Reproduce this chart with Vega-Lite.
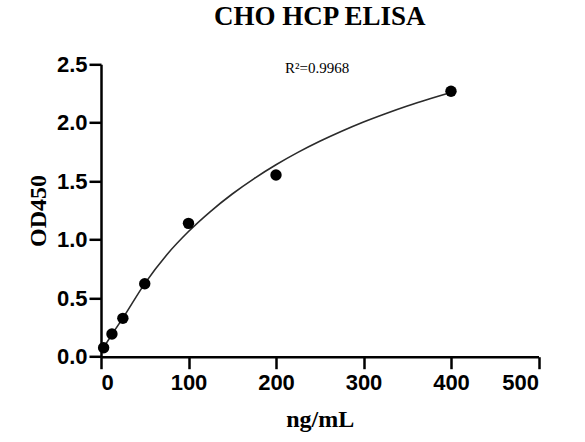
{
  "$schema": "https://vega.github.io/schema/vega-lite/v6.json",
  "autosize": {"type": "none"},
  "padding": {"left": 101, "top": 64.3, "right": 46.5, "bottom": 85.3},
  "width": 437.5,
  "height": 292.4,
  "background": "white",
  "title": {
    "text": "CHO HCP ELISA",
    "font": "Liberation Serif",
    "fontSize": 27,
    "fontWeight": "bold",
    "color": "black",
    "anchor": "middle",
    "offset": 22
  },
  "datasets": {
    "standards": [
      {"conc": 3, "od": 0.077},
      {"conc": 12.5, "od": 0.194},
      {"conc": 25, "od": 0.328},
      {"conc": 50, "od": 0.624},
      {"conc": 100, "od": 1.14},
      {"conc": 200, "od": 1.553},
      {"conc": 400, "od": 2.27}
    ],
    "fit": [
      {"conc": 3, "od": 0.08},
      {"conc": 12.5, "od": 0.19},
      {"conc": 25, "od": 0.33},
      {"conc": 50, "od": 0.625},
      {"conc": 75, "od": 0.87},
      {"conc": 100, "od": 1.07},
      {"conc": 125, "od": 1.241},
      {"conc": 150, "od": 1.391},
      {"conc": 175, "od": 1.523},
      {"conc": 200, "od": 1.641},
      {"conc": 225, "od": 1.747},
      {"conc": 250, "od": 1.842},
      {"conc": 275, "od": 1.928},
      {"conc": 300, "od": 2.007},
      {"conc": 325, "od": 2.078},
      {"conc": 350, "od": 2.144},
      {"conc": 375, "od": 2.204},
      {"conc": 400, "od": 2.26}
    ],
    "note": [
      {"conc": 247, "od": 2.427, "label": "R²=0.9968"}
    ]
  },
  "config": {
    "view": {"stroke": null},
    "axis": {
      "grid": false,
      "domainColor": "black",
      "domainWidth": 2.5,
      "tickColor": "black",
      "tickWidth": 2.5,
      "tickSize": 12,
      "labelFont": "Liberation Sans",
      "labelFontSize": 22,
      "labelFontWeight": "bold",
      "labelColor": "black",
      "titleFont": "Liberation Serif",
      "titleFontSize": 24,
      "titleFontWeight": "bold",
      "titleColor": "black"
    }
  },
  "encoding": {
    "x": {
      "field": "conc",
      "type": "quantitative",
      "title": "ng/mL",
      "scale": {"domain": [0, 500], "nice": false},
      "axis": {"values": [0, 100, 200, 300, 400, 500], "labelPadding": 4, "titlePadding": 14}
    },
    "y": {
      "field": "od",
      "type": "quantitative",
      "title": "OD450",
      "scale": {"domain": [0, 2.5], "nice": false},
      "axis": {"values": [0, 0.5, 1, 1.5, 2, 2.5], "format": ".1f", "labelPadding": 2, "titlePadding": 6}
    }
  },
  "layer": [
    {
      "data": {"name": "fit"},
      "mark": {"type": "line", "color": "#2b2b2b", "strokeWidth": 1.6, "interpolate": "monotone"}
    },
    {
      "data": {"name": "standards"},
      "mark": {"type": "point", "filled": true, "shape": "circle", "size": 130, "color": "black", "opacity": 1}
    },
    {
      "data": {"name": "note"},
      "mark": {"type": "text", "font": "Liberation Serif", "fontSize": 15, "color": "black", "align": "center", "baseline": "alphabetic"},
      "encoding": {"text": {"field": "label"}}
    }
  ]
}
